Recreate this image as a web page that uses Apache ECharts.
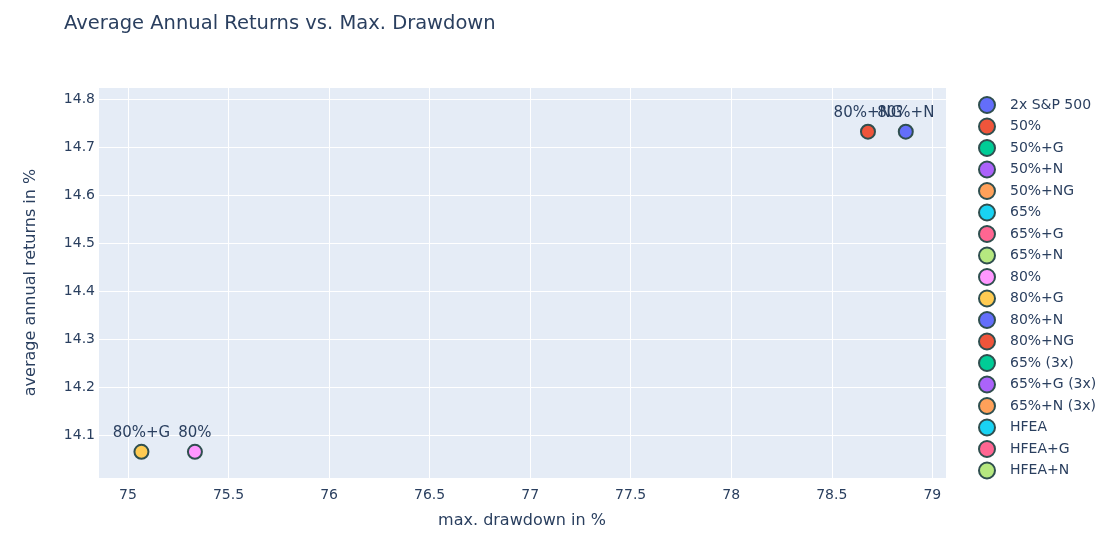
<!DOCTYPE html>
<html lang="en">
<head>
    <meta charset="UTF-8">
    <title>Average Annual Returns vs. Max. Drawdown</title>
    <script src="https://cdn.jsdelivr.net/npm/echarts@6/dist/echarts.min.js"></script>
    <style>
        html, body { margin: 0; padding: 0; background: #fff; }
        #main { width: 1105px; height: 546px; }
    </style>
</head>
<body>
<div id="main"></div>
<script>
    // series names as shown in the legend, in order
    const names = ['2x S&P 500', '50%', '50%+G', '50%+N', '50%+NG', '65%', '65%+G', '65%+N',
        '80%', '80%+G', '80%+N', '80%+NG', '65% (3x)', '65%+G (3x)', '65%+N (3x)',
        'HFEA', 'HFEA+G', 'HFEA+N']
    // plotly default palette, cycled
    const palette = ['#636efa', '#EF553B', '#00cc96', '#ab63fa', '#FFA15A',
        '#19d3f3', '#FF6692', '#B6E880', '#FF97FF', '#FECB52']

    // visible points: [max drawdown %, avg annual return %]
    const pts80 = [[75.333, 14.065]]
    const pts80G = [[75.067, 14.065]]
    const pts80N = [[78.868, 14.732]]
    const pts80NG = [[78.68, 14.732]]

    const pointData = {
        '80%': pts80,
        '80%+G': pts80G,
        '80%+N': pts80N,
        '80%+NG': pts80NG
    }

    const textColor = '#2a3f5f'
    const font = '"DejaVu Sans", Verdana, sans-serif'

    let series = names.map((n, i) => ({
        name: n,
        type: 'scatter',
        data: pointData[n] || [],
        symbol: 'circle',
        symbolSize: 14,
        itemStyle: {
            color: palette[i % palette.length],
            borderColor: '#2F4F4F',
            borderWidth: 2,
            opacity: 1
        },
        label: {
            show: true,
            position: 'top',
            distance: 3,
            formatter: n,
            color: textColor,
            fontSize: 15,
            fontFamily: font
        },
        emphasis: { disabled: true }
    }))

    let option = {
        animation: false,
        textStyle: { fontFamily: font },
        title: {
            text: 'Average Annual Returns vs. Max. Drawdown',
            left: 59,
            top: 9,
            textStyle: { color: textColor, fontSize: 19.5, fontWeight: 'normal', fontFamily: font }
        },
        legend: {
            orient: 'vertical',
            left: 978,
            top: 96,
            padding: 0,
            icon: 'circle',
            itemWidth: 16,
            itemHeight: 16,
            itemGap: 3.5,
            data: names,
            textStyle: { color: textColor, fontSize: 14, fontFamily: font, padding: [0, 0, 0, 10] }
        },
        grid: {
            show: true,
            left: 98,
            right: 159,
            top: 87,
            bottom: 68,
            backgroundColor: '#E5ECF6',
            borderWidth: 0
        },
        xAxis: {
            type: 'value',
            min: 74.851,
            max: 79.068,
            minInterval: 0.5,
            maxInterval: 0.5,
            name: 'max. drawdown in %',
            nameLocation: 'middle',
            nameGap: 35,
            nameTextStyle: { color: textColor, fontSize: 16, fontFamily: font },
            axisLine: { show: false },
            axisTick: { show: false },
            axisLabel: { color: textColor, fontSize: 14, margin: 10, showMinLabel: false, showMaxLabel: false },
            splitLine: { lineStyle: { color: '#ffffff', width: 1 } }
        },
        yAxis: {
            type: 'value',
            min: 14.0104,
            max: 14.825,
            minInterval: 0.1,
            maxInterval: 0.1,
            name: 'average annual returns in %',
            nameLocation: 'middle',
            nameGap: 59,
            nameTextStyle: { color: textColor, fontSize: 16, fontFamily: font },
            axisLine: { show: false },
            axisTick: { show: false },
            axisLabel: {
                color: textColor, fontSize: 14, margin: 3,
                showMinLabel: false, showMaxLabel: false,
                formatter: v => v.toFixed(1)
            },
            splitLine: { lineStyle: { color: '#ffffff', width: 1 } }
        },
        series: series
    }

    let myChart = echarts.init(document.getElementById('main'))
    myChart.setOption(option)
</script>
</body>
</html>
